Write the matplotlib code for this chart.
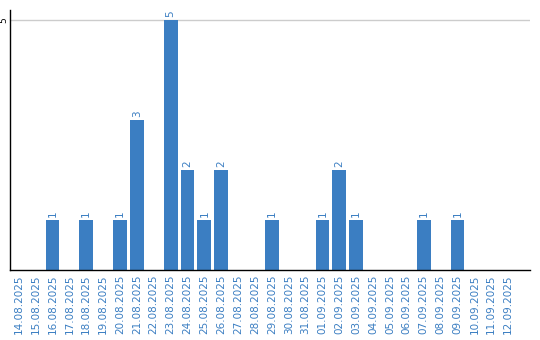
import matplotlib
matplotlib.use('Agg')
import matplotlib.pyplot as plt

dates = ['14.08.2025', '15.08.2025', '16.08.2025', '17.08.2025', '18.08.2025',
         '19.08.2025', '20.08.2025', '21.08.2025', '22.08.2025', '23.08.2025',
         '24.08.2025', '25.08.2025', '26.08.2025', '27.08.2025', '28.08.2025',
         '29.08.2025', '30.08.2025', '31.08.2025', '01.09.2025', '02.09.2025',
         '03.09.2025', '04.09.2025', '05.09.2025', '06.09.2025', '07.09.2025',
         '08.09.2025', '09.09.2025', '10.09.2025', '11.09.2025', '12.09.2025']
counts = [0, 0, 1, 0, 1, 0, 1, 3, 0, 5,
          2, 1, 2, 0, 0, 1, 0, 0, 1, 2,
          1, 0, 0, 0, 1, 0, 1, 0, 0, 0]

barColor = '#3b7ec2'

fig = plt.figure(figsize=(5.4, 3.4), dpi=100)
ax = fig.add_axes([0.0185, 0.206, 0.963, 0.764])

x = list(range(len(dates)))
ax.bar(x, counts, width=0.82, color=barColor, zorder=2)
for i, c in enumerate(counts):
  if c > 0:
    ax.text(i, c + 0.06, str(c), rotation=90, ha='center', va='bottom',
            color=barColor, fontsize=7.5)

ax.set_xlim(-0.52, 30.3)
ax.set_ylim(0, 5.2)
ax.set_xticks(x)
ax.set_xticklabels(dates, rotation=90, color=barColor, fontsize=7.5)
ax.set_yticks([5])
ax.set_yticklabels(['5'], rotation=90, va='center', fontsize=6.5)
ax.tick_params(axis='x', length=0, pad=3)
ax.tick_params(axis='y', length=0, pad=1)
ax.axhline(5, color='#cccccc', lw=1, zorder=1)
ax.spines['top'].set_visible(False)
ax.spines['right'].set_visible(False)
ax.spines['left'].set_linewidth(1)
ax.spines['bottom'].set_linewidth(1)

fig.savefig('out.png', dpi=100)
